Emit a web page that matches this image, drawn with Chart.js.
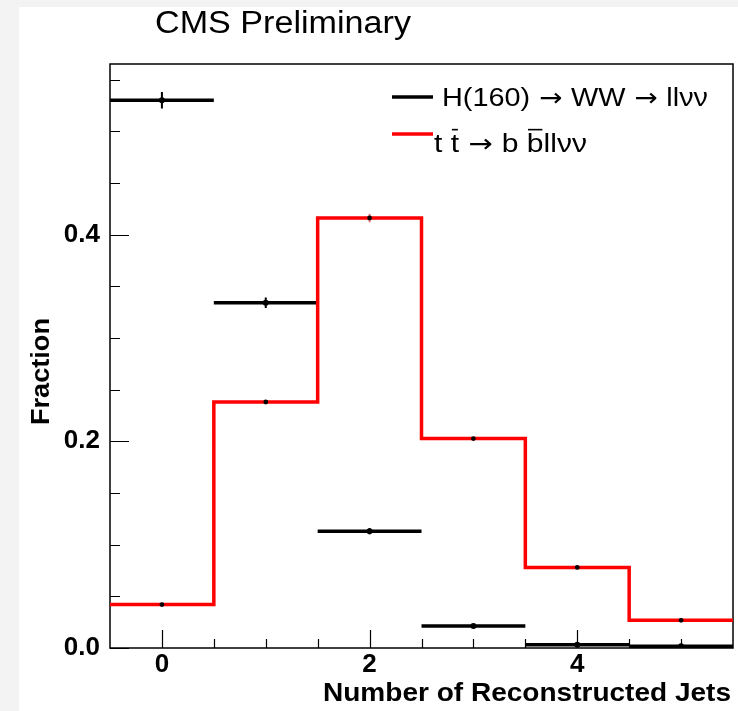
<!DOCTYPE html>
<html>
<head>
<meta charset="utf-8">
<title>Number of Reconstructed Jets</title>
<script src="https://cdn.jsdelivr.net/npm/chart.js@4.4.1/dist/chart.umd.min.js"></script>
<style>
    html, body { margin: 0; padding: 0; background: #f3f3f3; }
    #wrap { position: absolute; left: 19px; top: 7px; width: 719px; height: 704px; background: #fff; }
    canvas { display: block; }
</style>
</head>
<body>
<div id="wrap"><canvas id="jetsChart" width="719" height="704"></canvas></div>
<script>
// Jet multiplicity, normalised to unit area
const nJets = [0, 1, 2, 3, 4, 5];
const higgsFrac = [0.530, 0.334, 0.113, 0.0213, 0.0032, 0.0016];
const higgsErr = [0.008, 0.005, 0.003, 0.0015, 0.0006, 0.0004];
const ttbarFrac = [0.042, 0.238, 0.416, 0.2026, 0.078, 0.0268];
const ttbarErr = [0.001, 0.0015, 0.004, 0.0015, 0.001, 0.0008];

// Axis ticks
const xTicks = [0, 2, 4];
const yTicks = [0, 0.2, 0.4];
const xMinorStep = 0.5;
const yMinorStep = 0.05;

const FONT = '"Liberation Sans", Arial, Helvetica, sans-serif';
const binWidth = 1;

// Higgs: one flat segment per bin, broken between bins
function binSegments(values) {
    const pts = [];
    nJets.forEach((c, i) => {
        pts.push({ x: c - binWidth / 2, y: values[i] });
        pts.push({ x: c + binWidth / 2, y: values[i] });
        pts.push({ x: c + binWidth / 2, y: null });
    });
    return pts;
}

// ttbar: histogram outline, both edges of every bin
function stepOutline(values) {
    const pts = [];
    nJets.forEach((c, i) => {
        pts.push({ x: c - binWidth / 2, y: values[i] });
        pts.push({ x: c + binWidth / 2, y: values[i] });
    });
    return pts;
}

function centers(values) {
    return nJets.map((c, i) => ({ x: c, y: values[i] }));
}

// Draw text squeezed/stretched to a given width (ROOT fonts run wide)
function fitText(ctx, parts, x, y, font, width, align) {
    ctx.save();
    ctx.font = font;
    ctx.textBaseline = 'alphabetic';
    ctx.textAlign = 'left';
    const widths = parts.map(p => {
        ctx.font = p.f || font;
        return ctx.measureText(p.s).width;
    });
    ctx.font = font;
    const natural = widths.reduce((a, b) => a + b, 0);
    const k = width / natural;
    const size = parseFloat(font.match(/(\d+)px/)[1]);
    ctx.translate(align === 'right' ? x - width : x, y);
    ctx.scale(k, 1);
    let cx = 0;
    parts.forEach((p, i) => {
        ctx.font = p.f || font;
        ctx.fillText(p.s, cx, 0);
        if (p.bar) {
            ctx.lineWidth = 1.6;
            ctx.beginPath();
            ctx.moveTo(cx + 1, -size * 0.86);
            ctx.lineTo(cx + widths[i] - 1, -size * 0.86);
            ctx.stroke();
        }
        cx += widths[i];
    });
    ctx.restore();
}

// Frame, inward ticks and error bars (ROOT look)
const rootFrame = {
    id: 'rootFrame',
    beforeDatasetsDraw(chart) {
        const { ctx, chartArea: a, scales: { x, y } } = chart;
        ctx.save();
        ctx.strokeStyle = '#000';
        ctx.lineWidth = 1.5;
        ctx.strokeRect(a.left, a.top, a.right - a.left, a.bottom - a.top);

        ctx.lineWidth = 1.2;
        ctx.beginPath();
        for (let v = 0; v <= y.max + 1e-9; v += yMinorStep) {
            const py = Math.round(y.getPixelForValue(v)) + 0.5;
            const major = yTicks.some(t => Math.abs(t - v) < 1e-6);
            ctx.moveTo(a.left, py);
            ctx.lineTo(a.left + (major ? 19 : 10), py);
        }
        for (let v = x.min + xMinorStep; v < x.max - 1e-9; v += xMinorStep) {
            const px = Math.round(x.getPixelForValue(v)) + 0.5;
            const major = xTicks.some(t => Math.abs(t - v) < 1e-6);
            ctx.moveTo(px, a.bottom);
            ctx.lineTo(px, a.bottom - (major ? 18 : 9));
        }
        ctx.stroke();

        const bars = [[higgsFrac, higgsErr, '#000'], [ttbarFrac, ttbarErr, '#f07070']];
        bars.forEach(([vals, errs, col]) => {
            ctx.strokeStyle = col;
            ctx.lineWidth = 2;
            ctx.beginPath();
            nJets.forEach((c, i) => {
                const px = x.getPixelForValue(c);
                ctx.moveTo(px, y.getPixelForValue(vals[i] - errs[i]));
                ctx.lineTo(px, y.getPixelForValue(vals[i] + errs[i]));
            });
            ctx.stroke();
        });
        ctx.restore();
    },
    afterDraw(chart) {
        const ctx = chart.ctx;
        ctx.save();
        ctx.fillStyle = '#000';
        ctx.strokeStyle = '#000';

        fitText(ctx, [{ s: 'CMS Preliminary' }], 136, 26, '400 31px ' + FONT, 256);
        fitText(ctx, [{ s: 'Number of Reconstructed Jets' }], 712, 694, 'bold 26px ' + FONT, 408, 'right');

        ctx.save();
        ctx.translate(30, 418);
        ctx.rotate(-Math.PI / 2);
        fitText(ctx, [{ s: 'Fraction' }], 0, 0, 'bold 26px ' + FONT, 107);
        ctx.restore();

        // legend
        ctx.lineWidth = 3.5;
        ctx.strokeStyle = '#000';
        ctx.beginPath(); ctx.moveTo(373, 90); ctx.lineTo(414, 90); ctx.stroke();
        ctx.strokeStyle = '#ff0000';
        ctx.beginPath(); ctx.moveTo(373, 127); ctx.lineTo(414, 127); ctx.stroke();
        ctx.strokeStyle = '#000';
        const arrow = { s: ' \u2192 ', f: '400 25px "DejaVu Sans", sans-serif' };
        fitText(ctx, [{ s: 'H(160)' }, arrow, { s: 'WW' }, arrow, { s: 'll\u03bd\u03bd' }],
            423, 99, '400 26px ' + FONT, 266);
        fitText(ctx, [
            { s: 't ' }, { s: 't', bar: true }, arrow, { s: 'b ' }, { s: 'b', bar: true }, { s: 'll\u03bd\u03bd' }
        ], 415, 145, '400 26px ' + FONT, 153);
        ctx.restore();
    }
};

new Chart(document.getElementById('jetsChart'), {
    type: 'line',
    data: {
        datasets: [
            {
                label: 'markers H',
                data: centers(higgsFrac),
                showLine: false,
                pointRadius: 3,
                pointBackgroundColor: '#000',
                pointBorderWidth: 0,
                order: 0
            },
            {
                label: 'markers tt',
                data: centers(ttbarFrac),
                showLine: false,
                pointRadius: 2.4,
                pointBackgroundColor: '#000',
                pointBorderWidth: 0,
                order: 0
            },
            {
                label: 't tbar -> b bbar l l nu nu',
                data: stepOutline(ttbarFrac),
                borderColor: '#ff0000',
                borderWidth: 3.5,
                borderJoinStyle: 'miter',
                pointRadius: 0,
                fill: false,
                order: 1
            },
            {
                label: 'H(160) -> WW -> l l nu nu',
                data: binSegments(higgsFrac),
                borderColor: '#000',
                borderWidth: 3.5,
                borderCapStyle: 'butt',
                pointRadius: 0,
                spanGaps: false,
                fill: false,
                order: 2
            }
        ]
    },
    options: {
        responsive: false,
        animation: false,
        devicePixelRatio: 1,
        layout: { padding: { left: 0, right: 5, top: 57, bottom: 0 } },
        plugins: {
            legend: { display: false },
            tooltip: { enabled: false },
            title: { display: false }
        },
        scales: {
            x: {
                type: 'linear',
                min: -0.5,
                max: 5.5,
                grid: { display: false },
                border: { display: false },
                ticks: {
                    color: '#000',
                    font: { family: FONT, size: 26, weight: 'bold' },
                    padding: -7,
                    maxRotation: 0,
                    autoSkip: false,
                    callback: v => String(v)
                },
                afterBuildTicks: s => { s.ticks = xTicks.map(v => ({ value: v })); },
                afterFit: s => { s.height = 63; }
            },
            y: {
                min: 0,
                max: 0.565,
                grid: { display: false },
                border: { display: false },
                ticks: {
                    color: '#000',
                    font: { family: FONT, size: 26, weight: 'bold' },
                    padding: 2,
                    callback: v => v.toFixed(1)
                },
                afterBuildTicks: s => { s.ticks = yTicks.map(v => ({ value: v })); },
                afterFit: s => { s.width = 91; }
            }
        }
    },
    plugins: [rootFrame]
});
</script>
</body>
</html>
